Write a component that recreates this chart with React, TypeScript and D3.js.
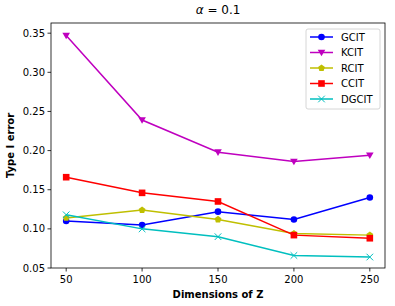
import React from "react";
import * as d3 from "d3";

const dims = [50, 100, 150, 200, 250];
const GCIT = [0.11, 0.105, 0.122, 0.112, 0.14];
const KCIT = [0.347, 0.239, 0.198, 0.186, 0.194];
const RCIT = [0.114, 0.124, 0.112, 0.094, 0.092];
const CCIT = [0.166, 0.146, 0.135, 0.092, 0.088];
const DGCIT = [0.118, 0.1, 0.09, 0.066, 0.064];
const yTicks = [0.05, 0.1, 0.15, 0.2, 0.25, 0.3, 0.35];
const xTicks = [50, 100, 150, 200, 250];

const series = [
  { name: "GCIT", values: GCIT, color: "#0000ff", marker: "o" },
  { name: "KCIT", values: KCIT, color: "#bf00bf", marker: "v" },
  { name: "RCIT", values: RCIT, color: "#bfbf00", marker: "p" },
  { name: "CCIT", values: CCIT, color: "#ff0000", marker: "s" },
  { name: "DGCIT", values: DGCIT, color: "#00bfbf", marker: "x" },
];

const W = 395, H = 306;
const L = 51, R = 385, T = 23, B = 268;
const font = "DejaVu Sans, sans-serif";

function Marker({ type, x, y, color }: { type: string; x: number; y: number; color: string }) {
  const s = 3.3;
  if (type === "o") return <circle cx={x} cy={y} r={s} fill={color} />;
  if (type === "s") return <rect x={x - s} y={y - s} width={2 * s} height={2 * s} fill={color} />;
  if (type === "v") {
    const r = 3.8;
    return <path d={`M${x - r},${y - r * 0.75}L${x + r},${y - r * 0.75}L${x},${y + r}Z`} fill={color} />;
  }
  if (type === "p") {
    const r = 3.6;
    const pts = d3.range(5).map((i) => {
      const a = -Math.PI / 2 + (i * 2 * Math.PI) / 5;
      return [x + r * Math.cos(a), y + r * Math.sin(a)];
    });
    return <path d={"M" + pts.map((p) => p.join(",")).join("L") + "Z"} fill={color} />;
  }
  if (type === "x") {
    const r = 3.3;
    return (
      <path d={`M${x - r},${y - r}L${x + r},${y + r}M${x - r},${y + r}L${x + r},${y - r}`} stroke={color} strokeWidth={1} fill="none" />
    );
  }
  return null;
}

export default function App() {
  const x = d3.scaleLinear().domain([40, 260]).range([L, R]);
  const y = d3.scaleLinear().domain([0.05, 0.363]).range([B, T]);
  const line = d3.line<number>().x((_, i) => x(dims[i])).y((d) => y(d));
  const lx = 306, ly = 29, lw = 74, lh = 80;
  return (
    <svg width={W} height={H} style={{ position: "absolute", left: 0, top: 0 }} fontFamily={font}>
      <rect width={W} height={H} fill="#fff" />
      {series.map((s) => (
        <g key={s.name}>
          <path d={line(s.values) || ""} fill="none" stroke={s.color} strokeWidth={1.5} />
          {s.values.map((v, i) => (
            <Marker key={i} type={s.marker} x={x(dims[i])} y={y(v)} color={s.color} />
          ))}
        </g>
      ))}
      <rect x={L} y={T} width={R - L} height={B - T} fill="none" stroke="#000" strokeWidth={0.8} />
      {xTicks.map((t) => (
        <g key={t}>
          <line x1={x(t)} x2={x(t)} y1={B} y2={B + 3.5} stroke="#000" strokeWidth={0.8} />
          <text x={x(t)} y={B + 15} textAnchor="middle" fontSize={10}>{t}</text>
        </g>
      ))}
      {yTicks.map((t) => (
        <g key={t}>
          <line x1={L - 3.5} x2={L} y1={y(t)} y2={y(t)} stroke="#000" strokeWidth={0.8} />
          <text x={L - 6} y={y(t) + 3.5} textAnchor="end" fontSize={10}>{t.toFixed(2)}</text>
        </g>
      ))}
      <text x={(L + R) / 2} y={14} textAnchor="middle" fontSize={12}>
        <tspan fontStyle="italic">α</tspan> = 0.1
      </text>
      <text x={(L + R) / 2} y={298} textAnchor="middle" fontSize={10} fontWeight="bold">Dimensions of Z</text>
      <text transform={`translate(14,${(T + B) / 2}) rotate(-90)`} textAnchor="middle" fontSize={10} fontWeight="bold">Type I error</text>
      <rect x={lx} y={ly} width={lw} height={lh} rx={2} fill="#fff" fillOpacity={0.8} stroke="#ccc" strokeWidth={0.8} />
      {series.map((s, i) => {
        const yy = ly + 8 + i * 15.5;
        return (
          <g key={s.name}>
            <line x1={lx + 4} x2={lx + 27} y1={yy} y2={yy} stroke={s.color} strokeWidth={1.5} />
            <Marker type={s.marker} x={lx + 15.5} y={yy} color={s.color} />
            <text x={lx + 35} y={yy + 3.5} fontSize={10}>{s.name}</text>
          </g>
        );
      })}
    </svg>
  );
}
